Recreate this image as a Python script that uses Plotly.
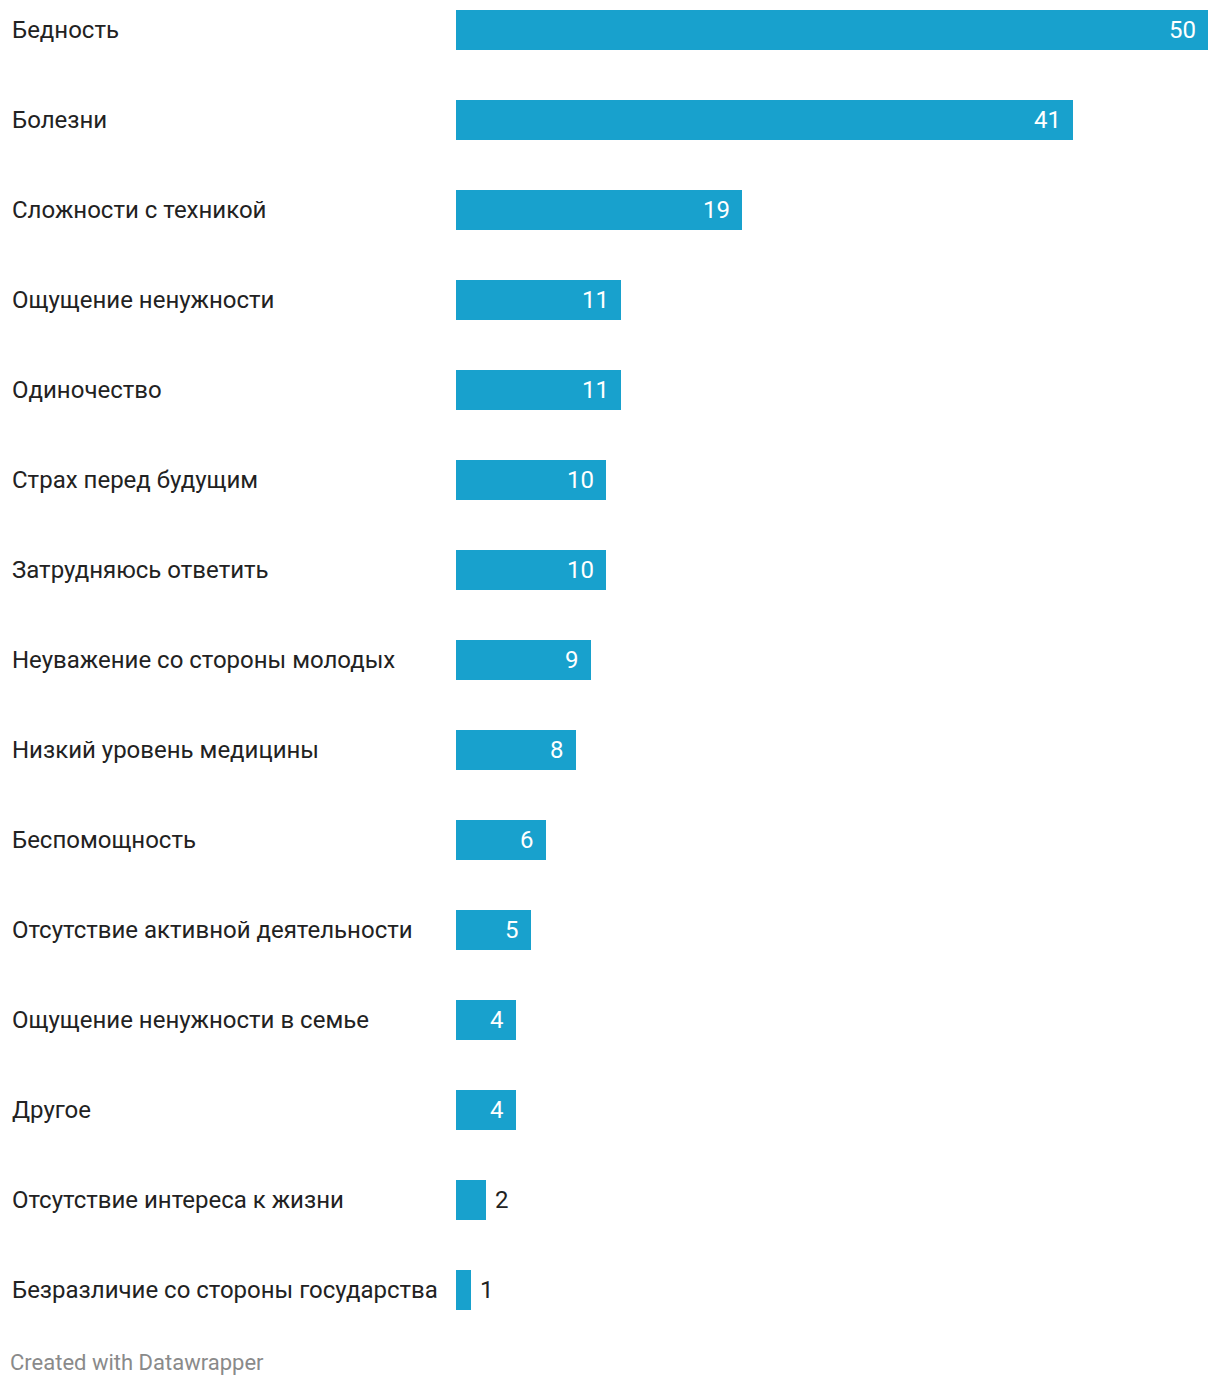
import plotly.graph_objects as go

categories = [
    "Бедность",
    "Болезни",
    "Сложности с техникой",
    "Ощущение ненужности",
    "Одиночество",
    "Страх перед будущим",
    "Затрудняюсь ответить",
    "Неуважение со стороны молодых",
    "Низкий уровень медицины",
    "Беспомощность",
    "Отсутствие активной деятельности",
    "Ощущение ненужности в семье",
    "Другое",
    "Отсутствие интереса к жизни",
    "Безразличие со стороны государства",
]
values = [50, 41, 19, 11, 11, 10, 10, 9, 8, 6, 5, 4, 4, 2, 1]

BAR_COLOR = "#18a1cd"
FONT = "Roboto, Arial, sans-serif"
# page has an 8px body margin, so the figure is a bit smaller than the window
W, H = 1212, 1378
L, R, T, B = 448, 12, 2, 76

fig = go.Figure(
    go.Bar(
        x=values,
        y=categories,
        orientation="h",
        marker_color=BAR_COLOR,
        marker_line_width=0,
        width=0.444,
        hoverinfo="x+y",
    )
)

plot_w = W - L - R
plot_h = H - T - B

# category labels, left aligned at the figure edge
for c in categories:
    fig.add_annotation(
        x=-(L - 2) / plot_w, xref="paper", y=c, yref="y",
        text=c, showarrow=False, xanchor="left", yanchor="middle",
        font=dict(size=24, color="#222222", family=FONT),
    )

# value labels: inside for wide bars, outside for narrow ones
for c, v in zip(categories, values):
    inside = v >= 4
    fig.add_annotation(
        x=v, y=c, text=str(v), showarrow=False,
        xanchor="right" if inside else "left",
        xshift=-10 if inside else 7, yanchor="middle",
        font=dict(size=24, color="white" if inside else "#222222", family=FONT),
    )

fig.add_annotation(
    x=-L / plot_w, xref="paper", y=-(1354 - (H - B)) / plot_h, yref="paper",
    text="Created with Datawrapper", showarrow=False, xanchor="left", yanchor="middle",
    font=dict(size=22, color="#8a8a8a", family=FONT),
)

fig.update_xaxes(range=[0, 50], visible=False, fixedrange=True)
fig.update_yaxes(
    type="category", categoryorder="array", categoryarray=categories,
    range=[14.2222, -0.2222], visible=False, fixedrange=True,
)
fig.update_layout(
    width=W, height=H,
    margin=dict(l=L, r=R, t=T, b=B, pad=0),
    plot_bgcolor="white", paper_bgcolor="white",
    showlegend=False, bargap=0,
    font=dict(family=FONT),
)

fig.write_html("out.html")
